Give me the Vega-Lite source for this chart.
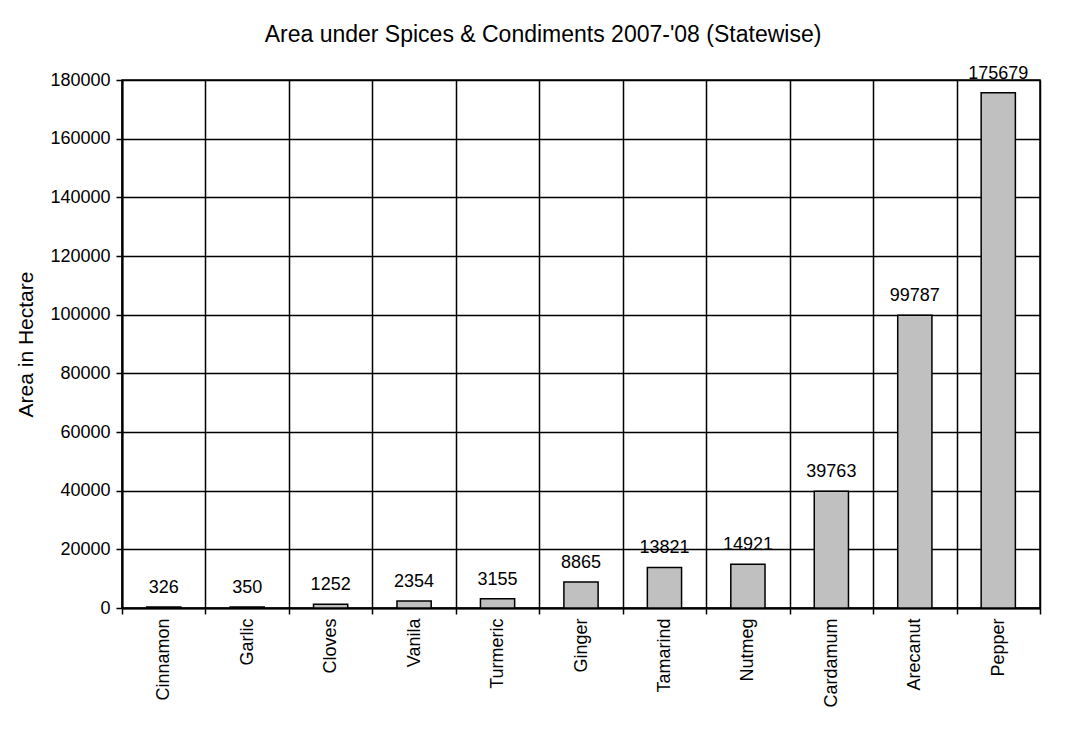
{
  "$schema": "https://vega.github.io/schema/vega-lite/v6.json",
  "autosize": {"type": "none"},
  "width": 918,
  "height": 528,
  "padding": {"left": 122, "top": 80, "right": 46, "bottom": 128},
  "background": "white",
  "title": {
    "text": "Area under Spices & Condiments 2007-'08 (Statewise)",
    "font": "Liberation Sans",
    "fontSize": 23,
    "fontWeight": "normal",
    "color": "black",
    "anchor": "middle",
    "frame": "group",
    "dx": -38,
    "offset": 18
  },
  "config": {
    "view": {"stroke": "black", "strokeWidth": 1.5},
    "axis": {
      "labelFont": "Liberation Sans",
      "titleFont": "Liberation Sans",
      "labelColor": "black",
      "titleColor": "black",
      "labelFontSize": 18,
      "titleFontSize": 21,
      "titleFontWeight": "normal",
      "domainColor": "black",
      "tickColor": "black",
      "gridColor": "black",
      "gridOpacity": 1,
      "gridWidth": 1.5,
      "domainWidth": 2,
      "tickWidth": 1.5,
      "tickSize": 6
    }
  },
  "data": {
    "values": [
      {"spice": "Cinnamon", "area": 326},
      {"spice": "Garlic", "area": 350},
      {"spice": "Cloves", "area": 1252},
      {"spice": "Vanila", "area": 2354},
      {"spice": "Turmeric", "area": 3155},
      {"spice": "Ginger", "area": 8865},
      {"spice": "Tamarind", "area": 13821},
      {"spice": "Nutmeg", "area": 14921},
      {"spice": "Cardamum", "area": 39763},
      {"spice": "Arecanut", "area": 99787},
      {"spice": "Pepper", "area": 175679}
    ]
  },
  "encoding": {
    "x": {
      "field": "spice",
      "type": "nominal",
      "sort": null,
      "scale": {"paddingInner": 0, "paddingOuter": 0},
      "axis": {
        "title": null,
        "labelAngle": -90,
        "labelAlign": "right",
        "labelBaseline": "middle",
        "labelPadding": 4,
        "tickBand": "extent",
        "grid": true
      }
    },
    "y": {
      "field": "area",
      "type": "quantitative",
      "scale": {"domain": [0, 180000], "nice": false},
      "axis": {
        "title": "Area in Hectare",
        "values": [0, 20000, 40000, 60000, 80000, 100000, 120000, 140000, 160000, 180000],
        "format": "d",
        "grid": true,
        "labelPadding": 6,
        "titlePadding": 13
      }
    }
  },
  "layer": [
    {
      "mark": {"type": "bar", "width": {"band": 0.41}, "fill": "#c0c0c0", "stroke": "black", "strokeWidth": 1.5}
    },
    {
      "mark": {"type": "text", "font": "Liberation Sans", "fontSize": 18, "color": "black", "baseline": "alphabetic", "dy": -14},
      "encoding": {"text": {"field": "area", "type": "quantitative", "format": "d"}}
    }
  ]
}
